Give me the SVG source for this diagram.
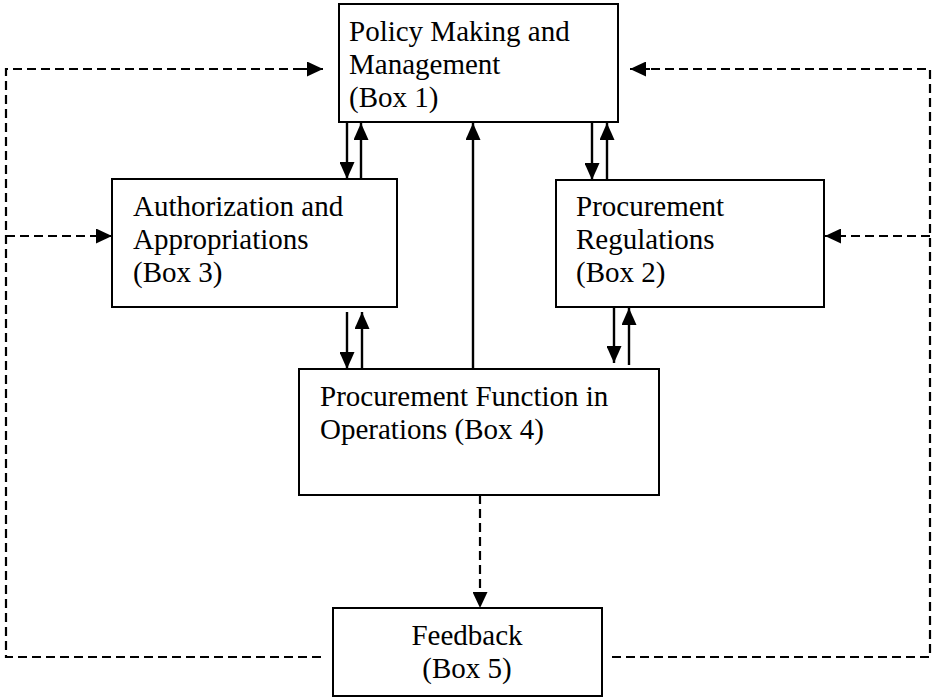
<svg xmlns="http://www.w3.org/2000/svg" width="932" height="699" viewBox="0 0 932 699">
  <style>
    .box { fill: #fff; stroke: #000; stroke-width: 2; }
    .label { font-family: "Liberation Serif", "Times New Roman", serif; font-size: 29px; fill: #000; }
    .solid { stroke: #000; stroke-width: 2.4; fill: none; marker-end: url(#head); }
    .dash { stroke: #000; stroke-width: 2.2; fill: none; stroke-dasharray: 9 5; }
    .dash-arrow { marker-end: url(#dhead); }
  </style>
  <defs>
    <marker id="head" viewBox="0 0 17 15" refX="17" refY="7.5" markerWidth="17" markerHeight="15" markerUnits="userSpaceOnUse" orient="auto">
      <path d="M0,0 L17,7.5 L0,15 z" fill="#000"/>
    </marker>
    <marker id="dhead" viewBox="0 0 16 15" refX="16" refY="7.5" markerWidth="16" markerHeight="15" markerUnits="userSpaceOnUse" orient="auto">
      <path d="M0,0 L16,7.5 L0,15 z" fill="#000"/>
    </marker>
  </defs>
  <rect width="932" height="699" fill="#fff"/>

  <!-- connectors -->
  <g id="connectors">
    <!-- Box 1 and Box 3 -->
    <line class="solid" x1="347" y1="122" x2="347" y2="179"/>
    <line class="solid" x1="361" y1="179" x2="361" y2="123"/>
    <!-- Box 4 up to Box 1 -->
    <line class="solid" x1="473" y1="369" x2="473" y2="123"/>
    <!-- Box 1 and Box 2 -->
    <line class="solid" x1="592" y1="122" x2="592" y2="180"/>
    <line class="solid" x1="607" y1="180" x2="607" y2="123"/>
    <!-- Box 3 and Box 4 -->
    <line class="solid" x1="347" y1="312" x2="347" y2="369"/>
    <line class="solid" x1="362" y1="369" x2="362" y2="312"/>
    <!-- Box 2 and Box 4 -->
    <line class="solid" x1="614" y1="307" x2="614" y2="363"/>
    <line class="solid" x1="629" y1="365" x2="629" y2="308"/>

    <!-- Box 4 to feedback -->
    <line class="dash dash-arrow" x1="480" y1="495" x2="480" y2="608" stroke-dasharray="10 6"/>

    <!-- feedback loop, left side -->
    <polyline class="dash" points="321,657 6,657 6,69 310,69"/>
    <line class="dash dash-arrow" x1="300" y1="69" x2="323" y2="69"/>
    <line class="dash dash-arrow" x1="6" y1="236" x2="112" y2="236"/>

    <!-- feedback loop, right side -->
    <polyline class="dash" points="612,657 930,657 930,69 640,69"/>
    <line class="dash dash-arrow" x1="650" y1="69" x2="630" y2="69"/>
    <line class="dash dash-arrow" x1="930" y1="236" x2="825" y2="236"/>
  </g>

  <g id="box1">
    <rect class="box" x="339" y="4" width="279" height="118" stroke-width="3"/>
    <text class="label" x="349" y="41">Policy Making and</text>
    <text class="label" x="349" y="74">Management</text>
    <text class="label" x="349" y="107">(Box 1)</text>
  </g>

  <g id="box3">
    <rect class="box" x="112" y="179" width="285" height="128"/>
    <text class="label" x="133" y="216">Authorization and</text>
    <text class="label" x="133" y="249">Appropriations</text>
    <text class="label" x="133" y="282">(Box 3)</text>
  </g>

  <g id="box2">
    <rect class="box" x="556" y="180" width="268" height="127"/>
    <text class="label" x="576" y="216">Procurement</text>
    <text class="label" x="576" y="249">Regulations</text>
    <text class="label" x="576" y="282">(Box 2)</text>
  </g>

  <g id="box4">
    <rect class="box" x="299" y="369" width="360" height="126"/>
    <text class="label" x="320" y="406">Procurement Function in</text>
    <text class="label" x="320" y="439">Operations (Box 4)</text>
  </g>

  <g id="box5">
    <rect class="box" x="333" y="608" width="269" height="88" stroke-width="2.5"/>
    <text class="label" x="467" y="645" text-anchor="middle">Feedback</text>
    <text class="label" x="467" y="678" text-anchor="middle">(Box 5)</text>
  </g>
</svg>
